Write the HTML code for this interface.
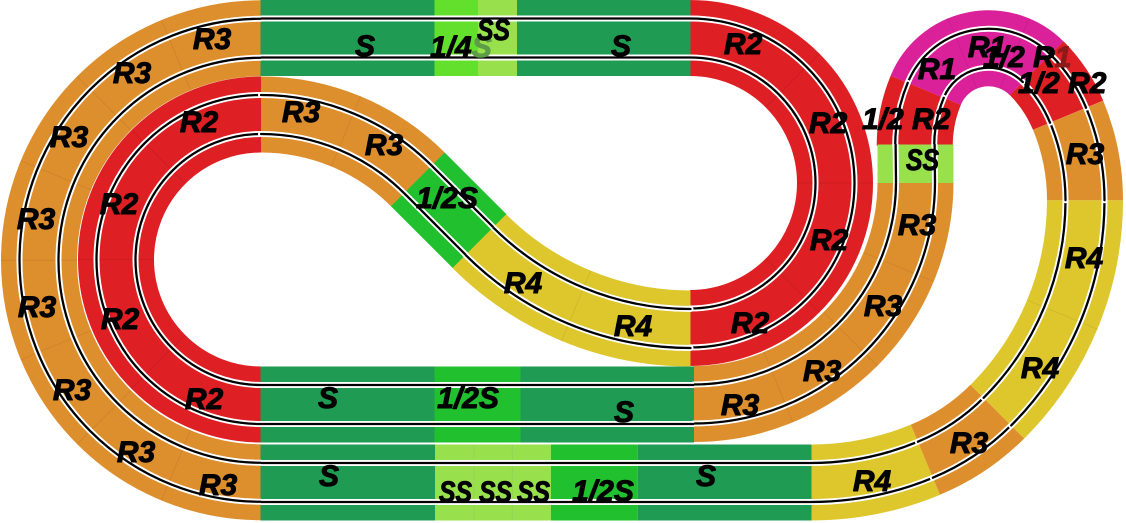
<!DOCTYPE html>
<html><head><meta charset="utf-8">
<style>
html,body{margin:0;padding:0;background:#fff;width:1126px;height:523px;overflow:hidden;}
svg{display:block;}
.p{fill:none;stroke-width:76;}
.lw{fill:none;stroke:#fff;stroke-width:6;stroke-linecap:round;}
.lb{fill:none;stroke:#000;stroke-width:2.3;stroke-linecap:round;}
.sep{stroke:rgba(0,0,0,0.07);stroke-width:1;}
text{font-family:"Liberation Sans",Arial,sans-serif;font-weight:bold;font-style:italic;font-size:30px;fill:#000;stroke:#000;stroke-width:1;stroke-linejoin:round;}
</style></head><body>
<svg width="1126" height="523" viewBox="0 0 1126 523" xmlns="http://www.w3.org/2000/svg">

<!-- ===== CURVE BODIES ===== -->
<g transform="translate(261 260.25)"><path class="p" stroke="#de8f2d" d="M0 222A222 222 0 0 1 0 -222"/></g>
<g transform="translate(261 259.5)"><path class="p" stroke="#de1f24" d="M0 145A145 145 0 0 1 0 -145"/></g>
<g transform="translate(690 183)"><path class="p" stroke="#de1f24" d="M0 -145A145 145 0 0 1 0 145"/></g>
<g transform="translate(261 336.5)"><path class="p" stroke="#de8f2d" d="M0 -222A222 222 0 0 1 156.98 -156.98"/></g>
<g transform="translate(690.5 29.5)"><path class="p" stroke="#dec72d" d="M0 299A299 299 0 0 1 -211.43 211.43"/></g>
<g transform="translate(693.5 182)"><path class="p" stroke="#de8f2d" d="M222 0A222 222 0 0 1 0 222"/></g>
<g transform="translate(811 183.5)"><path class="p" stroke="#dec72d" d="M114.42 276.24A299 299 0 0 1 0 299"/></g>
<g transform="translate(840.4 254.6)"><path class="p" stroke="#de8f2d" d="M156.98 156.98A222 222 0 0 1 84.96 205.1"/></g>
<g transform="translate(786 200.2)"><path class="p" stroke="#dec72d" d="M299 0A299 299 0 0 1 211.43 211.43"/></g>
<g transform="translate(863 200.2)"><path class="p" stroke="#de8f2d" d="M205.1 -84.96A222 222 0 0 1 222 0"/></g>
<g transform="translate(934.1 170.7)"><path class="p" stroke="#de1f24" d="M102.53 -102.53A145 145 0 0 1 133.96 -55.49"/></g>
<g transform="translate(988.5 116.3)"><path class="p" stroke="#da2199" d="M-62.82 -26.02A68 68 0 0 1 48.08 -48.08"/></g>
<g transform="translate(1059.7 145.8)"><path class="p" stroke="#de1f24" d="M-145 0A145 145 0 0 1 -133.96 -55.49"/></g>

<!-- ===== STRAIGHTS ===== -->
<rect x="260.5" y="0" width="174.5" height="76" fill="#1f9b54"/>
<rect x="434.5" y="0" width="43.5" height="76" fill="#63e02c"/>
<rect x="478" y="0" width="39" height="76" fill="#99e04d"/>
<rect x="517" y="0" width="173.5" height="76" fill="#1f9b54"/>

<rect x="260.5" y="366.5" width="174" height="76" fill="#1f9b54"/>
<rect x="434.5" y="366.5" width="86" height="76" fill="#20c02e"/>
<rect x="520.5" y="366.5" width="173.5" height="76" fill="#1f9b54"/>

<rect x="260.5" y="444.5" width="174.5" height="76" fill="#1f9b54"/>
<rect x="435" y="444.5" width="38.7" height="76" fill="#99e04d"/>
<rect x="473.7" y="444.5" width="38.7" height="76" fill="#99e04d"/>
<rect x="512.4" y="444.5" width="38.6" height="76" fill="#99e04d"/>
<rect x="551" y="444.5" width="86.7" height="76" fill="#20c02e"/>
<rect x="637.7" y="444.5" width="173.8" height="76" fill="#1f9b54"/>

<rect x="877.5" y="144.5" width="76" height="38.5" fill="#99e04d"/>

<g transform="translate(448.65 210.15) rotate(45)">
<rect x="-43.6" y="-38" width="87.2" height="76" fill="#20c02e"/>
</g>

<!-- ===== SEPARATORS ===== -->
<g transform="translate(261 260.25)">
<line class="sep" x1="184" y1="0" x2="260" y2="0" transform="rotate(112.5)"/>
<line class="sep" x1="184" y1="0" x2="260" y2="0" transform="rotate(135)"/>
<line class="sep" x1="184" y1="0" x2="260" y2="0" transform="rotate(157.5)"/>
<line class="sep" x1="184" y1="0" x2="260" y2="0" transform="rotate(180)"/>
<line class="sep" x1="184" y1="0" x2="260" y2="0" transform="rotate(202.5)"/>
<line class="sep" x1="184" y1="0" x2="260" y2="0" transform="rotate(225)"/>
<line class="sep" x1="184" y1="0" x2="260" y2="0" transform="rotate(247.5)"/>
</g>
<g transform="translate(261 259.5)">
<line class="sep" x1="107" y1="0" x2="183" y2="0" transform="rotate(135)"/>
<line class="sep" x1="107" y1="0" x2="183" y2="0" transform="rotate(180)"/>
<line class="sep" x1="107" y1="0" x2="183" y2="0" transform="rotate(225)"/>
</g>
<g transform="translate(690 183)">
<line class="sep" x1="107" y1="0" x2="183" y2="0" transform="rotate(-45)"/>
<line class="sep" x1="107" y1="0" x2="183" y2="0" transform="rotate(0)"/>
<line class="sep" x1="107" y1="0" x2="183" y2="0" transform="rotate(45)"/>
</g>
<g transform="translate(261 336.5)"><line class="sep" x1="184" y1="0" x2="260" y2="0" transform="rotate(-67.5)"/></g>
<g transform="translate(690.5 29.5)"><line class="sep" x1="261" y1="0" x2="337" y2="0" transform="rotate(112.5)"/></g>
<g transform="translate(693.5 182)">
<line class="sep" x1="184" y1="0" x2="260" y2="0" transform="rotate(22.5)"/>
<line class="sep" x1="184" y1="0" x2="260" y2="0" transform="rotate(45)"/>
<line class="sep" x1="184" y1="0" x2="260" y2="0" transform="rotate(67.5)"/>
</g>
<g transform="translate(786 200.2)"><line class="sep" x1="261" y1="0" x2="337" y2="0" transform="rotate(22.5)"/></g>
<g transform="translate(988.5 116.3)">
<line class="sep" x1="30" y1="0" x2="106" y2="0" transform="rotate(-67.5)"/>
<line class="sep" x1="30" y1="0" x2="106" y2="0" transform="rotate(-112.5)"/>
</g>
<line class="sep" x1="473.7" y1="444.5" x2="473.7" y2="520.5"/>
<line class="sep" x1="512.4" y1="444.5" x2="512.4" y2="520.5"/>

<!-- ===== LANES (curves) ===== -->
<g transform="translate(261 260.25)">
<path class="lw" d="M0 202.5A202.5 202.5 0 0 1 0 -202.5"/><path class="lb" d="M0 202.5A202.5 202.5 0 0 1 0 -202.5"/>
<path class="lw" d="M0 241.5A241.5 241.5 0 0 1 0 -241.5"/><path class="lb" d="M0 241.5A241.5 241.5 0 0 1 0 -241.5"/>
</g>
<g transform="translate(261 259.5)">
<path class="lw" d="M0 125.5A125.5 125.5 0 0 1 0 -125.5"/><path class="lb" d="M0 125.5A125.5 125.5 0 0 1 0 -125.5"/>
<path class="lw" d="M0 164.5A164.5 164.5 0 0 1 0 -164.5"/><path class="lb" d="M0 164.5A164.5 164.5 0 0 1 0 -164.5"/>
</g>
<g transform="translate(690 183)">
<path class="lw" d="M0 -125.5A125.5 125.5 0 0 1 0 125.5"/><path class="lb" d="M0 -125.5A125.5 125.5 0 0 1 0 125.5"/>
<path class="lw" d="M0 -164.5A164.5 164.5 0 0 1 0 164.5"/><path class="lb" d="M0 -164.5A164.5 164.5 0 0 1 0 164.5"/>
</g>
<g transform="translate(261 336.5)">
<path class="lw" d="M0 -202.5A202.5 202.5 0 0 1 143.19 -143.19"/><path class="lb" d="M0 -202.5A202.5 202.5 0 0 1 143.19 -143.19"/>
<path class="lw" d="M0 -241.5A241.5 241.5 0 0 1 170.77 -170.77"/><path class="lb" d="M0 -241.5A241.5 241.5 0 0 1 170.77 -170.77"/>
</g>
<g transform="translate(690.5 29.5)">
<path class="lw" d="M0 279.5A279.5 279.5 0 0 1 -197.64 197.64"/><path class="lb" d="M0 279.5A279.5 279.5 0 0 1 -197.64 197.64"/>
<path class="lw" d="M0 318.5A318.5 318.5 0 0 1 -225.21 225.21"/><path class="lb" d="M0 318.5A318.5 318.5 0 0 1 -225.21 225.21"/>
</g>
<g transform="translate(693.5 182)">
<path class="lw" d="M202.5 0A202.5 202.5 0 0 1 0 202.5"/><path class="lb" d="M202.5 0A202.5 202.5 0 0 1 0 202.5"/>
<path class="lw" d="M241.5 0A241.5 241.5 0 0 1 0 241.5"/><path class="lb" d="M241.5 0A241.5 241.5 0 0 1 0 241.5"/>
</g>
<g transform="translate(811 183.5)">
<path class="lw" d="M106.96 258.22A279.5 279.5 0 0 1 0 279.5"/><path class="lb" d="M106.96 258.22A279.5 279.5 0 0 1 0 279.5"/>
<path class="lw" d="M121.88 294.26A318.5 318.5 0 0 1 0 318.5"/><path class="lb" d="M121.88 294.26A318.5 318.5 0 0 1 0 318.5"/>
</g>
<g transform="translate(840.4 254.6)">
<path class="lw" d="M143.19 143.19A202.5 202.5 0 0 1 77.49 187.09"/><path class="lb" d="M143.19 143.19A202.5 202.5 0 0 1 77.49 187.09"/>
<path class="lw" d="M170.77 170.77A241.5 241.5 0 0 1 92.42 223.12"/><path class="lb" d="M170.77 170.77A241.5 241.5 0 0 1 92.42 223.12"/>
</g>
<g transform="translate(786 200.2)">
<path class="lw" d="M279.5 0A279.5 279.5 0 0 1 197.64 197.64"/><path class="lb" d="M279.5 0A279.5 279.5 0 0 1 197.64 197.64"/>
<path class="lw" d="M318.5 0A318.5 318.5 0 0 1 225.21 225.21"/><path class="lb" d="M318.5 0A318.5 318.5 0 0 1 225.21 225.21"/>
</g>
<g transform="translate(863 200.2)">
<path class="lw" d="M187.09 -77.49A202.5 202.5 0 0 1 202.5 0"/><path class="lb" d="M187.09 -77.49A202.5 202.5 0 0 1 202.5 0"/>
<path class="lw" d="M223.12 -92.42A241.5 241.5 0 0 1 241.5 0"/><path class="lb" d="M223.12 -92.42A241.5 241.5 0 0 1 241.5 0"/>
</g>
<g transform="translate(934.1 170.7)">
<path class="lw" d="M88.74 -88.74A125.5 125.5 0 0 1 115.95 -48.03"/><path class="lb" d="M88.74 -88.74A125.5 125.5 0 0 1 115.95 -48.03"/>
<path class="lw" d="M116.32 -116.32A164.5 164.5 0 0 1 151.98 -62.95"/><path class="lb" d="M116.32 -116.32A164.5 164.5 0 0 1 151.98 -62.95"/>
</g>
<g transform="translate(988.5 116.3)">
<path class="lw" d="M-44.81 -18.56A48.5 48.5 0 0 1 34.29 -34.29"/><path class="lb" d="M-44.81 -18.56A48.5 48.5 0 0 1 34.29 -34.29"/>
<path class="lw" d="M-80.84 -33.48A87.5 87.5 0 0 1 61.87 -61.87"/><path class="lb" d="M-80.84 -33.48A87.5 87.5 0 0 1 61.87 -61.87"/>
</g>
<g transform="translate(1059.7 145.8)">
<path class="lw" d="M-125.5 0A125.5 125.5 0 0 1 -115.95 -48.03"/><path class="lb" d="M-125.5 0A125.5 125.5 0 0 1 -115.95 -48.03"/>
<path class="lw" d="M-164.5 0A164.5 164.5 0 0 1 -151.98 -62.95"/><path class="lb" d="M-164.5 0A164.5 164.5 0 0 1 -151.98 -62.95"/>
</g>

<!-- straight lanes -->
<g>
<line x1="261" y1="18.5" x2="690.5" y2="18.5" stroke="#fff" stroke-width="6"/><line x1="261" y1="18.5" x2="690.5" y2="18.5" stroke="#000" stroke-width="2.3"/>
<line x1="261" y1="57.5" x2="690.5" y2="57.5" stroke="#fff" stroke-width="6"/><line x1="261" y1="57.5" x2="690.5" y2="57.5" stroke="#000" stroke-width="2.3"/>
<line x1="261" y1="385" x2="694" y2="385" stroke="#fff" stroke-width="6"/><line x1="261" y1="385" x2="694" y2="385" stroke="#000" stroke-width="2.3"/>
<line x1="261" y1="424" x2="694" y2="424" stroke="#fff" stroke-width="6"/><line x1="261" y1="424" x2="694" y2="424" stroke="#000" stroke-width="2.3"/>
<line x1="261" y1="463" x2="811.5" y2="463" stroke="#fff" stroke-width="6"/><line x1="261" y1="463" x2="811.5" y2="463" stroke="#000" stroke-width="2.3"/>
<line x1="261" y1="502" x2="811.5" y2="502" stroke="#fff" stroke-width="6"/><line x1="261" y1="502" x2="811.5" y2="502" stroke="#000" stroke-width="2.3"/>
<line x1="895.6" y1="144" x2="896" y2="182.5" stroke="#fff" stroke-width="6"/><line x1="895.6" y1="144" x2="896" y2="182.5" stroke="#000" stroke-width="2.3"/>
<line x1="934.6" y1="144" x2="935" y2="182.5" stroke="#fff" stroke-width="6"/><line x1="934.6" y1="144" x2="935" y2="182.5" stroke="#000" stroke-width="2.3"/>
</g>
<g transform="translate(448.65 210.15) rotate(45)">
<line x1="-43.6" y1="-19.5" x2="43.6" y2="-19.5" stroke="#fff" stroke-width="6"/><line x1="-43.6" y1="-19.5" x2="43.6" y2="-19.5" stroke="#000" stroke-width="2.3"/>
<line x1="-43.6" y1="19.5" x2="43.6" y2="19.5" stroke="#fff" stroke-width="6"/><line x1="-43.6" y1="19.5" x2="43.6" y2="19.5" stroke="#000" stroke-width="2.3"/>
</g>

<!-- ===== LABELS ===== -->
<g text-anchor="middle">
<text x="365" y="56">S</text>
<text x="621" y="56">S</text>
<text x="743" y="54">R2</text>
<text x="828" y="133">R2</text>
<text x="829" y="250">R2</text>
<text x="750" y="333">R2</text>

<text x="212" y="49">R3</text>
<text x="132" y="83">R3</text>
<text x="69" y="147">R3</text>
<text x="36" y="229">R3</text>
<text x="37" y="317">R3</text>
<text x="72" y="400">R3</text>
<text x="136" y="462">R3</text>
<text x="218" y="495">R3</text>

<text x="199" y="132">R2</text>
<text x="119" y="214">R2</text>
<text x="120" y="329">R2</text>
<text x="204" y="409">R2</text>

<text x="301" y="122">R3</text>
<text x="384" y="155">R3</text>
<text x="447" y="208">1/2S</text>
<text x="523" y="293">R4</text>
<text x="633" y="336">R4</text>

<text x="328" y="408">S</text>
<text x="468" y="408">1/2S</text>
<text x="624" y="422">S</text>

<text x="329" y="486">S</text>
<text x="603" y="501">1/2S</text>
<text x="706" y="486">S</text>

<text x="740" y="415">R3</text>
<text x="822" y="381">R3</text>
<text x="883" y="316">R3</text>
<text x="917" y="235">R3</text>

<text x="937" y="79">R1</text>
<text x="987" y="57">R1</text>

<text x="1085" y="164">R3</text>
<text x="1084" y="268">R4</text>
<text x="1040" y="378">R4</text>
<text x="969" y="453">R3</text>
<text x="872" y="491">R4</text>
</g>
<text x="430" y="57">1/4<tspan fill="#5f9c48" stroke="#5f9c48">S</tspan></text>
<text x="477" y="40" textLength="33" lengthAdjust="spacingAndGlyphs">SS</text>
<text x="439" y="502" textLength="33" lengthAdjust="spacingAndGlyphs">SS</text>
<text x="479" y="502" textLength="33" lengthAdjust="spacingAndGlyphs">SS</text>
<text x="517" y="502" textLength="33" lengthAdjust="spacingAndGlyphs">SS</text>
<text x="906" y="170" textLength="33" lengthAdjust="spacingAndGlyphs">SS</text>
<text x="862" y="129">1/2 R2</text>
<text x="983" y="67">1/2 R<tspan fill="#8c1a1a" stroke="#8c1a1a">1</tspan></text>
<text x="1018" y="93">1/2 R2</text>
</svg>
</body></html>
